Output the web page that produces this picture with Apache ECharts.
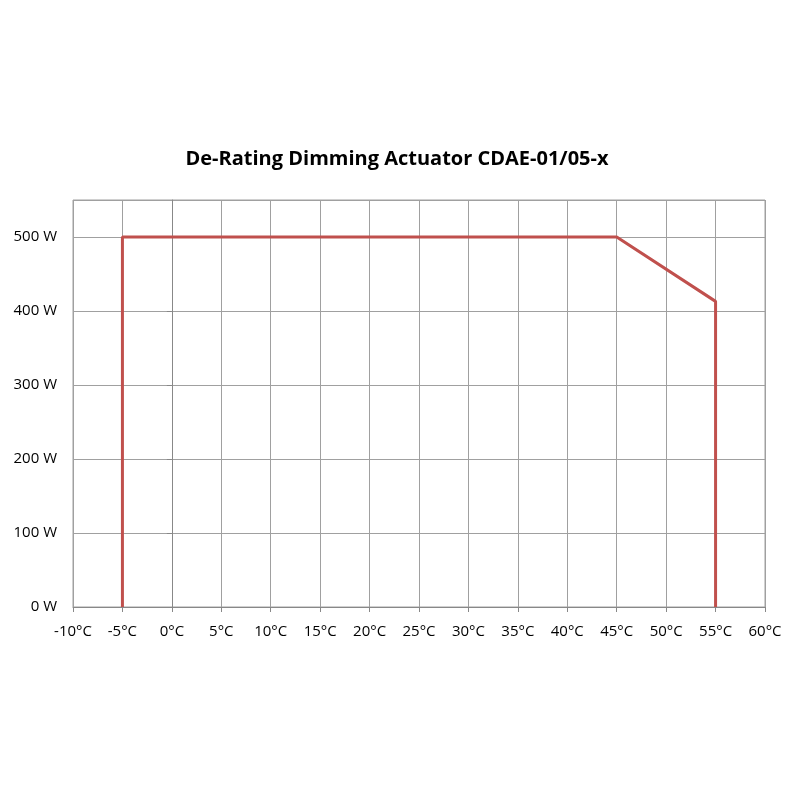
<!DOCTYPE html>
<html>
<head>
<meta charset="utf-8">
<title>De-Rating</title>
<script src="https://cdn.jsdelivr.net/npm/echarts@6/dist/echarts.min.js"></script>
<style>html,body{margin:0;background:#fff;}#main{width:794px;height:794px;}</style>
</head>
<body>
<div id="main"></div>
<script>
var temps = [-5, -5, 45, 55, 55];
var watts = [0, 500, 500, 413, 0];

var chart = echarts.init(document.getElementById('main'));
var pts = [];
for (var i = 0; i < temps.length; i++) pts.push([temps[i], watts[i]]);
var font = '"Open Sans", "Liberation Sans", sans-serif';
chart.setOption({
  animation: false,
  title: {
    text: 'De-Rating Dimming Actuator CDAE-01/05-x',
    left: 'center', top: 144,
    textStyle: { fontFamily: font, fontSize: 20, fontWeight: 'bold', color: '#000' }
  },
  grid: { left: 73, right: 29, top: 200, bottom: 187, show: true, borderColor: '#a0a0a0', borderWidth: 1 },
  xAxis: {
    type: 'value', min: -10, max: 60, interval: 5,
    axisLine: { lineStyle: { color: '#888' } },
    axisTick: { show: true, length: 5, lineStyle: { color: '#888' } },
    splitLine: { lineStyle: { color: '#a0a0a0' } },
    axisLabel: { formatter: '{value}°C', color: '#000', fontFamily: font, fontSize: 15, margin: 17 }
  },
  yAxis: {
    type: 'value', min: 0, max: 550, interval: 100,
    axisLine: { show: true, lineStyle: { color: '#888' } },
    axisTick: { show: true, length: 5, lineStyle: { color: '#888' } },
    splitLine: { lineStyle: { color: '#a0a0a0' } },
    axisLabel: { formatter: '{value} W', color: '#000', fontFamily: font, fontSize: 15, margin: 16,
      showMaxLabel: false }
  },
  series: [{
    type: 'line', data: pts, symbol: 'none',
    lineStyle: { color: '#c0504d', width: 3 }
  }]
});
</script>
</body>
</html>
